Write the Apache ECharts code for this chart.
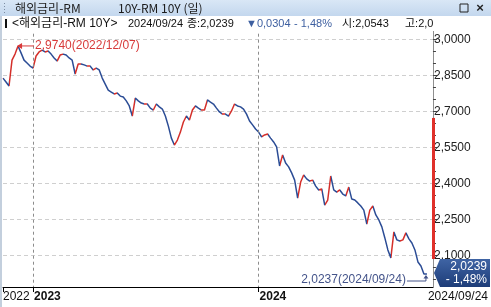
<!DOCTYPE html>
<html><head><meta charset="utf-8">
<script src="https://cdn.jsdelivr.net/npm/echarts@6/dist/echarts.min.js"></script>
<style>html,body{margin:0;padding:0;background:#fff;overflow:hidden}#c{width:491px;height:307px}</style>
</head><body><div id="c"></div>
<script>
// ---- data (one close about every 3 trading days) ----
const closes = [
 2.840,2.824,2.807,2.915,2.940,2.974,2.945,2.915,2.903,2.890,
 2.882,2.932,2.949,2.957,2.949,2.953,2.940,2.924,2.911,2.936,
 2.940,2.936,2.924,2.915,2.857,2.899,2.899,2.895,2.890,2.890,
 2.874,2.882,2.874,2.840,2.815,2.790,2.782,2.774,2.778,2.765,
 2.761,2.745,2.724,2.682,2.757,2.745,2.736,2.732,2.732,2.715,
 2.707,2.732,2.720,2.711,2.682,2.640,2.590,2.561,2.582,2.615,
 2.657,2.682,2.665,2.707,2.724,2.715,2.707,2.707,2.749,2.740,
 2.732,2.715,2.699,2.690,2.690,2.682,2.703,2.732,2.724,2.720,
 2.711,2.690,2.661,2.645,2.628,2.615,2.595,2.603,2.607,2.590,
 2.574,2.553,2.474,2.520,2.486,2.470,2.445,2.415,2.340,2.407,
 2.436,2.420,2.411,2.415,2.390,2.374,2.378,2.311,2.332,2.432,
 2.374,2.365,2.374,2.357,2.349,2.386,2.336,2.332,2.320,2.307,
 2.290,2.232,2.290,2.307,2.270,2.249,2.220,2.174,2.124,2.091,
 2.199,2.166,2.161,2.166,2.195,2.170,2.153,2.124,2.074,2.057,
 2.0239
];
const firstOpen = 2.830;
const lastLow = 2.0237;
const tickLabels = ['2022', '2023', '2024', '2024/09/24'];
const tickIndex = [0, 10, 85, 140];
const yearLineIndex = [10, 85];
const padSlots = 3;
const yMin = 1.95, yMax = 3.05, yStep = 0.15;
const titleText = '해외금리-RM';
const subTitleText = '10Y-RM 10Y (일)';
const infoName = '<해외금리-RM 10Y>';
const infoDate = '2024/09/24';
const infoClose = 2.0239, infoChange = 0.0304, infoPct = -1.48, infoOpen = 2.0543, infoHighText = '2,0643';
const maxValue = 2.974, maxDate = '2022/12/07';
const minDate = '2024/09/24';
const rangeTop = 2.674;

// ---- build ----
const fmt = (v, d) => v.toFixed(d).replace('.', ',');
const pctText = fmt(infoPct, 2).replace('-', '- ') + '%';
const categories = Array.from({length: closes.length + padSlots}, (_, i) => String(i));
const lineData = closes.slice();
lineData.push(lastLow); // intraday low of the last day, drawn as the final tick down
const lastIdx = closes.length - 1;
const maxIdx = closes.indexOf(Math.max.apply(null, closes));

const NUM = '"Liberation Sans", "Noto Sans CJK KR", sans-serif';
const KR = '"Noto Sans CJK KR", "Liberation Sans", sans-serif';
const RED = '#d42f2a', BLUE = '#2b4c95';

const pieces = closes.map((c, i) => {
  const prev = i === 0 ? firstOpen : closes[i - 1];
  return {gt: i - 1, lte: i, color: c >= prev ? RED : BLUE};
});
pieces.push({gt: lastIdx, lte: lastIdx + 1, color: BLUE});

const chart = echarts.init(document.getElementById('c'), null, {renderer: 'canvas'});
chart.setOption({
  animation: false,
  backgroundColor: '#ffffff',
  grid: {left: 3, right: 58, top: 27.7, bottom: 15.3},
  visualMap: {type: 'piecewise', show: false, dimension: 0, seriesIndex: 0, pieces: pieces},
  xAxis: {
    type: 'category', data: categories, boundaryGap: false, offset: -4.7, z: 3,
    axisLine: {lineStyle: {color: '#000', width: 1}},
    axisTick: {show: true, length: 5, interval: (i) => tickIndex.slice(0, 3).includes(i), lineStyle: {color: '#000'}},
    axisLabel: {
      interval: (i) => tickIndex.includes(i), margin: 4, align: 'left',
      formatter: (v) => {
        const k = tickIndex.indexOf(Number(v));
        if (k < 0) return '';
        const t = tickLabels[k];
        if (k === 1 || k === 2) return '{b|' + t + '}';
        if (k === 3) return '{e|' + t + '}';
        return '{n|' + t + '}';
      },
      rich: {
        n: {fontFamily: NUM, fontSize: 12, color: '#111'},
        b: {fontFamily: NUM, fontSize: 12, fontWeight: 'bold', color: '#111', padding: [0, 0, 0, 1]},
        e: {fontFamily: NUM, fontSize: 12, color: '#111', padding: [0, 0, 0, 4]}
      }
    },
    splitLine: {show: true, interval: (i) => yearLineIndex.includes(i), lineStyle: {color: '#8c8c8c', type: [3, 3]}}
  },
  yAxis: {
    type: 'value', position: 'right', min: yMin, max: yMax, interval: yStep, scale: true,
    axisLine: {show: true, lineStyle: {color: '#8f8f8f'}},
    axisTick: {show: true, length: 4, lineStyle: {color: '#444'}},
    minorTick: {show: true, splitNumber: 3, length: 3, lineStyle: {color: '#444'}},
    axisLabel: {margin: 1, color: '#222', fontFamily: NUM, fontSize: 12,
      formatter: (v) => (v < 2.0 || v > 3.01) ? '' : fmt(v, 4)},
    splitLine: {show: true, lineStyle: {color: '#cfcfcf', type: [4, 3]}}
  },
  series: [{
    type: 'line', data: lineData, z: 2, symbol: 'none', smooth: false,
    lineStyle: {width: 1.5}
  }]
});

const px = (i, v) => chart.convertToPixel({seriesIndex: 0}, [i, v]);
const pMax = px(maxIdx, maxValue);
const pLast = px(lastIdx + 1, lastLow);
const yTopRange = chart.convertToPixel({yAxisIndex: 0}, rangeTop);
const yAxisX = 433;

const g = [];
// title bar
g.push({type: 'rect', z: 100, shape: {x: 0, y: 0, width: 491, height: 16},
  style: {fill: new echarts.graphic.LinearGradient(0, 0, 0, 1, [{offset: 0, color: '#d9e7f6'}, {offset: 1, color: '#c3d7ee'}])}});
for (let k = 0; k < 4; k++) g.push({type: 'rect', z: 101, shape: {x: 4, y: 3 + k * 3, width: 1, height: 1}, style: {fill: '#7d8ea3'}});
g.push({type: 'text', z: 101, x: 15, y: 8, style: {text: titleText, font: '12px ' + KR, fill: '#1b1b1b', textVerticalAlign: 'middle'}});
g.push({type: 'text', z: 101, x: 118, y: 8, style: {text: subTitleText, font: '12px ' + KR, fill: '#1b1b1b', textVerticalAlign: 'middle'}});
g.push({type: 'rect', z: 101, shape: {x: 460, y: 4, width: 8, height: 8}, style: {fill: 'none', stroke: '#222', lineWidth: 1}});
g.push({type: 'text', z: 101, x: 480, y: 8, style: {text: '×', font: 'bold 13px ' + NUM, fill: '#222', textAlign: 'center', textVerticalAlign: 'middle'}});
// info row
g.push({type: 'rect', z: 100, shape: {x: 0, y: 16, width: 491, height: 15}, style: {fill: '#ffffff'}});
g.push({type: 'rect', z: 101, shape: {x: 5, y: 19, width: 2, height: 9}, style: {fill: '#111'}});
const infoParts = [
  [12, infoName, '#111', '12px'],
  [128, infoDate, '#111', '11px'],
  [187, '종:' + fmt(infoClose, 4), '#111', '11px'],
  [246, '▼' + fmt(infoChange, 4), '#3d5fa0', '11px'],
  [294, pctText, '#3d5fa0', '11px'],
  [342, '시:' + fmt(infoOpen, 4), '#111', '11px'],
  [405, '고:' + infoHighText, '#111', '11px']
];
infoParts.forEach(p => g.push({type: 'text', z: 101, x: p[0], y: 24, style: {text: p[1], font: p[3] + ' ' + NUM, fill: p[2], textVerticalAlign: 'middle'}}));
g.push({type: 'rect', z: 102, shape: {x: yAxisX, y: 16, width: 58, height: 15}, style: {fill: '#ffffff'}});
// left border
g.push({type: 'rect', z: 102, shape: {x: 0, y: 16, width: 2, height: 291}, style: {fill: '#c3cfdd'}});
// cover below x axis line
g.push({type: 'rect', z: 1, shape: {x: 2, y: 287.5, width: 489, height: 5}, style: {fill: '#ffffff'}});
// red range bar on the axis
g.push({type: 'rect', z: 5, shape: {x: yAxisX - 1, y: yTopRange, width: 3, height: 259 - yTopRange}, style: {fill: '#e0302a'}});
// current value box
g.push({type: 'polygon', z: 6, shape: {points: [[yAxisX + 1, 273], [yAxisX + 7, 259], [490, 259], [490, 287], [yAxisX + 7, 287]]},
  style: {fill: new echarts.graphic.LinearGradient(0, 0, 0, 1, [{offset: 0, color: '#3f64a4'}, {offset: 1, color: '#1d3c78'}])}});
g.push({type: 'text', z: 7, x: 487, y: 267, style: {text: fmt(infoClose, 4), font: '12px ' + NUM, fill: '#fff', textAlign: 'right', textVerticalAlign: 'middle'}});
g.push({type: 'text', z: 7, x: 487, y: 280, style: {text: pctText, font: '12px ' + NUM, fill: '#fff', textAlign: 'right', textVerticalAlign: 'middle'}});
// max annotation
g.push({type: 'line', z: 8, shape: {x1: pMax[0], y1: pMax[1], x2: pMax[0] + 16, y2: pMax[1]}, style: {stroke: '#d83a3a', lineWidth: 1}});
g.push({type: 'polygon', z: 8, shape: {points: [[pMax[0] - 1, pMax[1]], [pMax[0] + 4, pMax[1] - 3], [pMax[0] + 4, pMax[1] + 3]]}, style: {fill: '#d83a3a'}});
g.push({type: 'text', z: 8, x: pMax[0] + 17, y: pMax[1], style: {text: fmt(maxValue, 4) + '(' + maxDate + ')', font: '12px ' + NUM, fill: '#d83a3a', textVerticalAlign: 'middle'}});
// min annotation
const ay = pLast[1] + 7;
g.push({type: 'text', z: 8, x: pLast[0] - 21, y: ay - 1, style: {text: fmt(lastLow, 4) + '(' + minDate + ')', font: '12px ' + NUM, fill: '#44548a', textAlign: 'right', textVerticalAlign: 'middle'}});
g.push({type: 'polyline', z: 8, shape: {points: [[pLast[0] - 20, ay], [pLast[0] - 1, ay], [pLast[0] - 1, pLast[1] + 2]]}, style: {stroke: '#44548a', lineWidth: 1, fill: 'none'}});
g.push({type: 'polygon', z: 8, shape: {points: [[pLast[0] - 1, pLast[1] + 1], [pLast[0] - 3.5, pLast[1] + 4.5], [pLast[0] + 1.5, pLast[1] + 4.5]]}, style: {fill: '#44548a'}});

chart.setOption({graphic: {elements: g}});
</script>
</body></html>
